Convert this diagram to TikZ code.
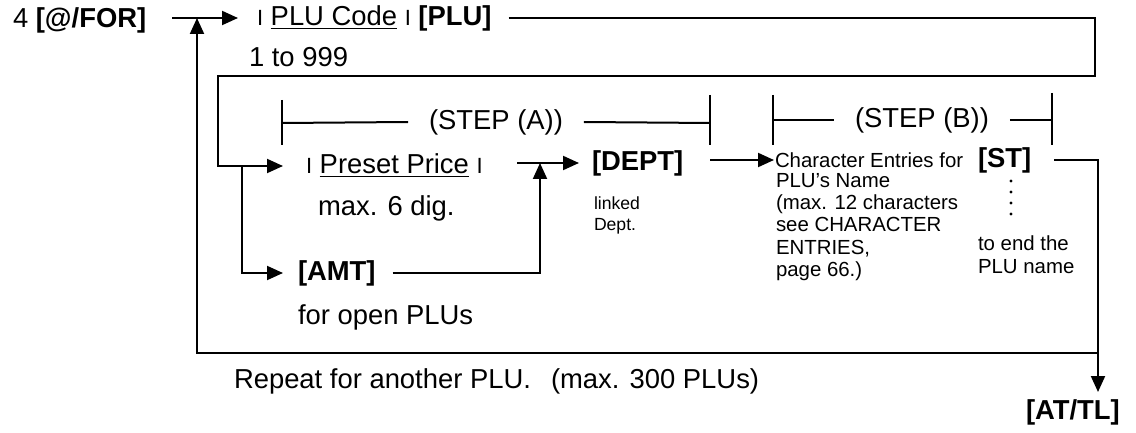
\documentclass[tikz,border=0pt]{standalone}
\usepackage{fontspec}
\setmainfont{Liberation Sans}
\usetikzlibrary{arrows.meta}
\newcommand\keymark{{\fontsize{11}{11}\selectfont I}}
\begin{document}
\begin{tikzpicture}[x=0.5pt,y=-0.5pt,line width=1pt,
  arr/.style={-{Triangle[length=8pt,width=7pt]}},
  txt/.style={font=\fontsize{13.7}{16}\selectfont,inner sep=0pt,anchor=west},
  small/.style={font=\fontsize{10.2}{11.2}\selectfont,inner sep=0pt,align=left},
  tiny/.style={font=\fontsize{8.8}{10.5}\selectfont,inner sep=0pt,align=left,anchor=north west},
  gapnode/.style={txt,inner xsep=10pt,anchor=center}]
\useasboundingbox (0,0) rectangle (1136,433);
% texts
\node[txt] (for) at (12,20) {4 \textbf{[@/FOR]}};
\node[txt] (pluc) at (238,18) {\kern9pt\keymark\ \underline{PLU Code} \keymark\ \textbf{[PLU]}\kern8pt};
\node[txt] (range) at (248,57) {1 to 999};
\node[gapnode] (stepA) at (496,122) {(STEP (A))};
\node[gapnode] (stepB) at (922,120) {(STEP (B))};
\node[txt] (preset) at (283,166) {\kern11pt\keymark\ \underline{Preset Price} \keymark};
\node[txt] (maxsix) at (317,208) {max. 6 dig.};
\node[txt] (amt) at (283,273) {\kern7pt\textbf{[AMT]}\kern8pt};
\node[txt] (open) at (297,317) {for open PLUs};
\node[txt] (dept) at (579,163) {\kern6pt\textbf{[DEPT]}};
\node[tiny] (linked) at (593,196) {linked\\Dept.};
\node[small,anchor=west] (chr1) at (774,160) {Character Entries for};
\node[small,anchor=north west] (chr2) at (775,172) {PLU's Name\\(max. 12 characters\\see CHARACTER\\ENTRIES,\\page 66.)};
\node[txt] (st) at (977,160) {\textbf{[ST]}\kern11pt};
\node[small,anchor=north west] (toend) at (977,235) {to end the\\PLU name};
\node[txt] (repeat) at (233,381) {Repeat for another PLU.};
\node[txt] (maxplu) at (550,381) {(max. 300 PLUs)};
\node[txt] (attl) at (1025,412) {\textbf{[AT/TL]}};
% coordinates
\coordinate (s0) at (172,18);
\coordinate (lp) at (197,18);
\coordinate (bl) at (197,353);
\coordinate (br) at (1098,353);
\coordinate (tr) at (1095,76);
\coordinate (tl) at (218,76);
\coordinate (bx) at (242,166);
\coordinate (j1) at (517,163);
\coordinate (j2) at (540,163);
\coordinate (j3) at (710,160);
\coordinate (ae) at (1098,392);
% connectors
\draw[arr] (s0) -- (pluc.west);
\draw[arr] (br) -- (bl) -- (lp);
\draw[arr] (pluc.east) -- (pluc.east -| tr) -- (tr) -- (tl) |- (preset.west);
\draw[arr] (bx) |- (amt.west);
\draw[arr] (amt.east) -| (j2);
\draw[arr] (j1) -- (dept.west);
\draw[arr] (j3) -- (chr1.west);
\draw[arr] (st.east) -| (ae);
\draw[line width=1.6pt,dash pattern=on 0pt off 5.5pt,line cap=round] (1011,181) -- (1011,224);
% step brackets
\draw (282,100) -- (282,145);
\draw (282,123) -- (stepA.west);
\draw (stepA.east) -- (710,123);
\draw (710,95) -- (710,145);
\draw (773,95) -- (773,145);
\draw (773,120) -- (stepB.west);
\draw (stepB.east) -- (1052,120);
\draw (1052,93) -- (1052,145);
\end{tikzpicture}
\end{document}
